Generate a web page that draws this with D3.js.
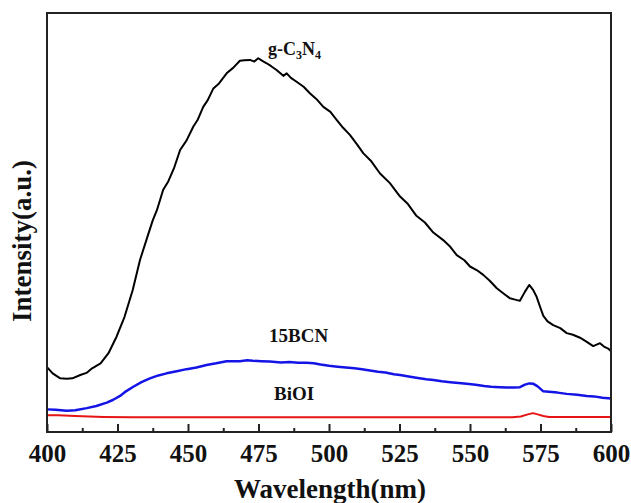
<!doctype html>
<html lang="en">
  <head>
    <meta charset="utf-8">
    <title>PL spectra</title>
    <script src="https://d3js.org/d3.v7.min.js"></script>
    <style>
      body { margin: 0; background: #fff; }
      text { font-family: "Liberation Serif", "Times New Roman", serif; font-weight: bold; fill: #111; }
    </style>
  </head>
  <body>
    <div id="holder"></div>
  <script>
      // wavelength (nm) / intensity (a.u.)
      const gcnWave = [400, 402, 404.7, 407, 409, 411.8, 414, 416, 419, 421.8, 424.7, 427.5, 430.4, 433, 436, 437.5, 439, 441.2, 443, 445, 447.2, 449.5, 451.9, 453.5, 455.4, 457, 459, 461, 463.7, 466, 468.4, 470, 472, 473.5, 474.9, 476.5, 477.9, 479.5, 481.4, 483.8, 485, 486.5, 488.5, 491, 493.3, 495.5, 498, 500.5, 502.7, 505, 507.4, 510, 512.2, 515, 518.1, 521.6, 525.2, 528, 531, 534, 537, 540.5, 543, 545.3, 548, 550, 552.5, 554.7, 557, 559.5, 562, 564.2, 566, 567.7, 569.5, 571, 572.3, 573.6, 575, 576, 577.5, 579.5, 582, 584.3, 586.5, 589, 591, 593.7, 596.1, 597.5, 599, 600];
      const gcnValue = [15.5, 14.0, 12.8, 12.7, 12.8, 13.6, 14.1, 15.2, 16.4, 18.8, 22.8, 27.5, 33.9, 41.1, 47.4, 50.5, 53.0, 57.8, 59.8, 62.9, 67.3, 69.6, 72.9, 74.6, 77.6, 79.2, 82.0, 83.2, 85.6, 86.9, 88.6, 88.7, 88.8, 88.4, 89.2, 88.5, 88.0, 87.3, 86.4, 85.0, 85.6, 84.5, 83.6, 82.4, 80.8, 79.5, 77.6, 76.4, 74.5, 72.6, 70.9, 68.6, 66.5, 64.6, 61.7, 59.4, 56.2, 54.4, 51.6, 50.0, 47.6, 45.8, 44.2, 42.2, 41.0, 39.5, 38.6, 37.5, 36.1, 34.3, 33.0, 31.9, 31.6, 31.3, 33.5, 35.1, 34.0, 32.3, 29.6, 27.7, 26.4, 25.5, 24.8, 23.6, 23.2, 22.5, 21.7, 20.5, 21.2, 20.4, 19.9, 19.3];

      const bcnWave = [400, 403, 407, 410, 414.1, 417.5, 421.2, 423.5, 425.9, 428, 430.6, 433.5, 436.5, 439.5, 442.4, 446, 449.5, 453, 456.6, 460, 463.7, 466, 468.4, 471, 473, 476, 479, 483, 486, 489, 492, 494.6, 497, 500, 503, 506, 509, 511.7, 514.5, 517.4, 520, 523, 525.2, 528.8, 531.5, 534.5, 537, 540, 543, 546, 548.8, 552, 555, 557.5, 560.6, 563, 565.5, 567.7, 569.5, 571, 572.5, 574, 576, 578, 581, 584.3, 588, 591.4, 594, 597, 600];
      const bcnValue = [5.4, 5.3, 5.1, 5.2, 5.7, 6.2, 7.0, 7.7, 8.6, 9.7, 10.8, 11.9, 12.8, 13.5, 14.0, 14.5, 15.0, 15.4, 16.0, 16.4, 16.9, 16.9, 16.9, 17.1, 17.0, 16.9, 16.8, 16.6, 16.7, 16.5, 16.5, 16.4, 16.1, 15.8, 15.6, 15.4, 15.2, 15.0, 14.7, 14.4, 14.2, 13.8, 13.6, 13.2, 12.9, 12.6, 12.4, 12.1, 11.9, 11.7, 11.5, 11.3, 11.0, 10.8, 10.7, 10.6, 10.6, 10.7, 11.3, 11.6, 11.5, 10.9, 9.7, 9.6, 9.4, 9.1, 8.9, 8.6, 8.5, 8.2, 8.0];

      const bioiWave = [400, 404, 410, 420, 430, 450, 480, 520, 550, 565, 568, 570.5, 572.3, 574, 576, 578, 590, 600];
      const bioiValue = [4.0, 4.0, 3.8, 3.6, 3.5, 3.5, 3.5, 3.5, 3.5, 3.5, 3.7, 4.2, 4.5, 4.2, 3.8, 3.6, 3.6, 3.6];

      const majorTicks = [400, 425, 450, 475, 500, 525, 550, 575, 600];
      const minorTicks = [412.5, 437.5, 462.5, 487.5, 512.5, 537.5, 562.5, 587.5];

      const series = [
        { name: 'g-C3N4', wave: gcnWave, value: gcnValue, color: '#000000', width: 2 },
        { name: '15BCN', wave: bcnWave, value: bcnValue, color: '#1414e6', width: 2.5 },
        { name: 'BiOI', wave: bioiWave, value: bioiValue, color: '#e61414', width: 2 }
      ];

      const W = 631, H = 503;
      const margin = { top: 13, right: 20, bottom: 71, left: 47 };
      const w = W - margin.left - margin.right;
      const h = H - margin.top - margin.bottom;

      const svg = d3.select('#holder')
        .append('svg')
        .attr('width', W)
        .attr('height', H);

      const g = svg.append('g')
        .attr('transform', 'translate(' + margin.left + ',' + margin.top + ')');

      const x = d3.scaleLinear().domain([400, 600]).range([0, w]);
      const y = d3.scaleLinear().domain([0, 100]).range([h, 0]);

      const line = d3.line()
        .x(function(d) { return x(d[0]); })
        .y(function(d) { return y(d[1]); });

      series.forEach(function(s) {
        g.append('path')
          .datum(d3.zip(s.wave, s.value))
          .attr('d', line)
          .attr('fill', 'none')
          .attr('stroke', s.color)
          .attr('stroke-width', s.width)
          .attr('stroke-linejoin', 'round');
      });

      // frame
      g.append('rect')
        .attr('width', w)
        .attr('height', h)
        .attr('fill', 'none')
        .attr('stroke', '#222')
        .attr('stroke-width', 2);

      // axis: ticks point inward
      const xAxis = d3.axisBottom(x)
        .tickValues(majorTicks)
        .tickSize(-8)
        .tickPadding(12)
        .tickFormat(d3.format('d'));

      const ax = g.append('g')
        .attr('transform', 'translate(0,' + h + ')')
        .call(xAxis);
      ax.select('.domain').remove();
      ax.selectAll('line').attr('stroke', '#222').attr('stroke-width', 2);
      ax.selectAll('text')
        .style('font-size', '25px')
        .style('font-family', '"Liberation Serif", "Times New Roman", serif')
        .style('font-weight', 'bold')
        .attr('fill', '#111');

      const minor = g.append('g')
        .attr('transform', 'translate(0,' + h + ')')
        .call(d3.axisBottom(x).tickValues(minorTicks).tickSize(-4).tickFormat(''));
      minor.select('.domain').remove();
      minor.selectAll('line').attr('stroke', '#222').attr('stroke-width', 2);

      // axis titles
      svg.append('text')
        .text('Wavelength(nm)')
        .attr('x', 330)
        .attr('y', 498)
        .attr('text-anchor', 'middle')
        .style('font-size', '27px');

      svg.append('text')
        .text('Intensity(a.u.)')
        .attr('transform', 'translate(31,241) rotate(-90)')
        .attr('text-anchor', 'middle')
        .style('font-size', '27px');

      // curve labels
      const lab = svg.append('text')
        .attr('x', 268)
        .attr('y', 55)
        .style('font-size', '18px');
      lab.append('tspan').text('g-C');
      lab.append('tspan').text('3').attr('dy', 4).style('font-size', '12px');
      lab.append('tspan').text('N').attr('dy', -4);
      lab.append('tspan').text('4').attr('dy', 4).style('font-size', '12px');

      svg.append('text')
        .text('15BCN')
        .attr('x', 269)
        .attr('y', 342)
        .style('font-size', '19px');

      svg.append('text')
        .text('BiOI')
        .attr('x', 274)
        .attr('y', 400)
        .style('font-size', '19px');
  </script>
  </body>
</html>
